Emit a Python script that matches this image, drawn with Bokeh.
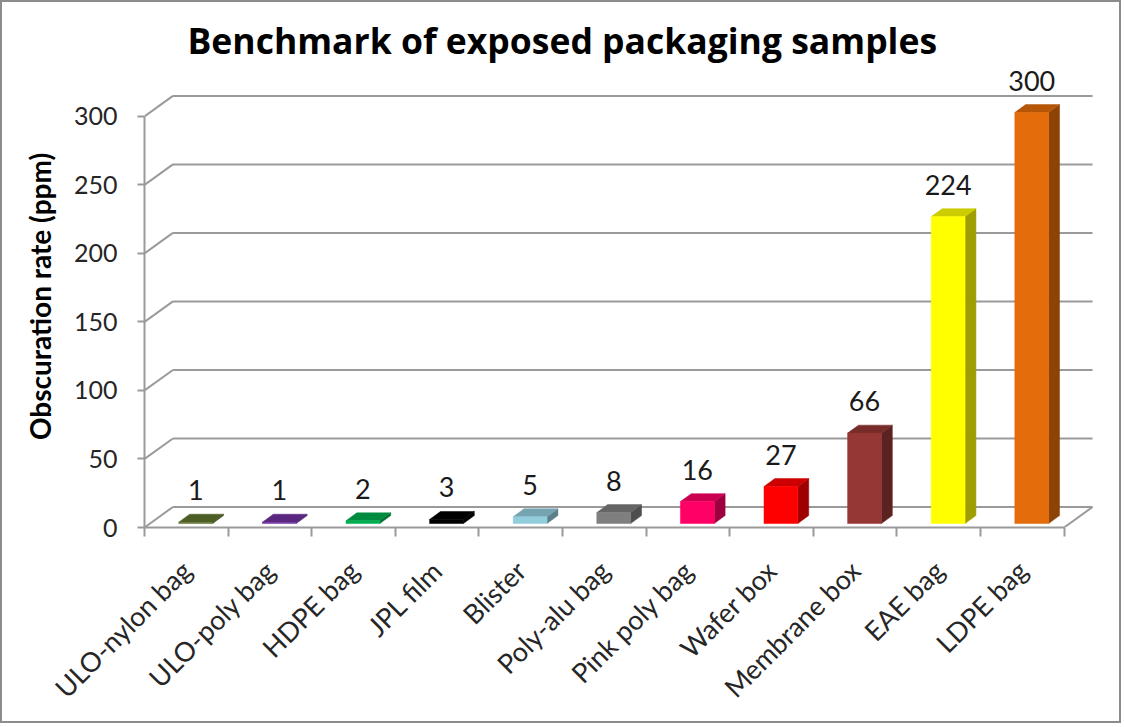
import math
from bokeh.plotting import figure
from bokeh.models import FixedTicker, Range1d, ColumnDataSource
from bokeh.core.properties import value
from bokeh.embed import file_html
from bokeh.resources import INLINE

# ---- data ----
categories = ["ULO-nylon bag", "ULO-poly bag", "HDPE bag", "JPL film", "Blister",
              "Poly-alu bag", "Pink poly bag", "Wafer box", "Membrane box", "EAE bag", "LDPE bag"]
values = [1, 1, 2, 3, 5, 8, 16, 27, 66, 224, 300]
bar_colors = ["#5f7530", "#7030a0", "#00b050", "#000000", "#92cddc", "#7f7f7f",
              "#ff0066", "#ff0000", "#953735", "#ffff00", "#e46c0a"]
y_ticks = [0, 50, 100, 150, 200, 250, 300]
title_text = "Benchmark of exposed packaging samples"
y_label = "Obscuration rate (ppm)"

# ---- 3D style parameters (in axis units) ----
WALL_DX, WALL_DY = 0.34, 15.0      # depth of the back wall / floor
BAR_DX, BAR_DY = 0.13, 5.8         # depth of each bar
BAR_OFF, BAR_W = 0.41, 0.405       # front face start inside a category, width
BAR_Y0 = 2.9                       # bar front bottom above floor front edge
LABEL_GAP = 17.5                   # gap between bar top and its value label
GRID = "#9a9a9a"
FONT = "Lato"


def shade(hexc, f):
    h = hexc.lstrip("#")
    r, g, b = (int(h[i:i + 2], 16) for i in (0, 2, 4))
    return "#%02x%02x%02x" % (int(r * f), int(g * f), int(b * f))


n = len(categories)
p = figure(width=1121, height=723,
           x_range=Range1d(-0.5, 10.935), y_range=Range1d(0, 337.2),
           output_backend="svg", toolbar_location=None,
           min_border_left=142, min_border_right=23, min_border_top=63, min_border_bottom=198,
           title=title_text)
p.styles = {"border": "2px solid #8c8c8c"}
p.grid.visible = False
p.outline_line_color = None
p.background_fill_color = "white"
p.border_fill_color = "white"

p.title.text_font = "Open Sans"
p.title.text_font_size = "35.5px"
p.title.text_font_style = "bold"
p.title.text_color = "#000000"
p.title.align = "left"
p.title.offset = 43
p.title.standoff = 3

# ---- back wall gridlines + left wall diagonals ----
x_left = -0.5
x_right = n - 0.5
p.segment(x0=[x_left + WALL_DX] * len(y_ticks), y0=[t + WALL_DY for t in y_ticks],
          x1=[x_right + WALL_DX] * len(y_ticks), y1=[t + WALL_DY for t in y_ticks],
          line_color=GRID, line_width=2)
p.segment(x0=[x_left] * len(y_ticks), y0=y_ticks,
          x1=[x_left + WALL_DX] * len(y_ticks), y1=[t + WALL_DY for t in y_ticks],
          line_color=GRID, line_width=2)
# floor right edge
p.segment(x0=[x_right], y0=[0], x1=[x_right + WALL_DX], y1=[WALL_DY],
          line_color=GRID, line_width=2)

# ---- bars ----
lefts = [i - 0.5 + BAR_OFF for i in range(n)]
rights = [l + BAR_W for l in lefts]
bottoms = [BAR_Y0] * n
tops = [BAR_Y0 + v for v in values]
side_cols = [shade(c, 0.62) for c in bar_colors]
top_cols = [shade(c, 0.8) for c in bar_colors]

side_xs = [[r, r + BAR_DX, r + BAR_DX, r] for r in rights]
side_ys = [[b, b + BAR_DY, t + BAR_DY, t] for b, t in zip(bottoms, tops)]
top_xs = [[l, r, r + BAR_DX, l + BAR_DX] for l, r in zip(lefts, rights)]
top_ys = [[t, t, t + BAR_DY, t + BAR_DY] for t in tops]

p.patches(xs=side_xs, ys=side_ys, fill_color=side_cols, line_color=side_cols, line_width=0.5)
p.patches(xs=top_xs, ys=top_ys, fill_color=top_cols, line_color=top_cols, line_width=0.5)
p.quad(left=lefts, right=rights, bottom=bottoms, top=tops,
       fill_color=bar_colors, line_color=bar_colors, line_width=0.5)

# ---- value labels ----
lab = ColumnDataSource(dict(x=[l + BAR_W / 2 for l in lefts],
                            y=[t + BAR_DY + LABEL_GAP for t in tops],
                            t=[str(v) for v in values]))
p.text(x="x", y="y", text="t", source=lab, text_font=value(FONT), text_font_size="27px",
       text_align="center", text_baseline="alphabetic", text_color="#1a1a1a")

# ---- axes ----
ya = p.yaxis[0]
ya.ticker = FixedTicker(ticks=y_ticks, minor_ticks=[])
ya.bounds = (0, 300)
ya.axis_line_color = GRID
ya.axis_line_width = 2
ya.major_tick_line_color = GRID
ya.major_tick_line_width = 2
ya.major_tick_out = 7
ya.major_tick_in = 0
ya.major_label_standoff = 20
ya.major_label_text_font = FONT
ya.major_label_text_font_size = "25px"
ya.major_label_text_color = "#262626"
ya.axis_label = y_label
ya.axis_label_text_font = FONT
ya.axis_label_text_font_size = "28px"
ya.axis_label_text_font_style = "bold"
ya.axis_label_text_color = "#000000"
ya.axis_label_standoff = 14

xa = p.xaxis[0]
xa.ticker = FixedTicker(ticks=list(range(n)), minor_ticks=[i - 0.5 for i in range(n + 1)])
xa.major_label_overrides = {i: c for i, c in enumerate(categories)}
xa.bounds = (x_left, x_right)
xa.axis_line_color = GRID
xa.axis_line_width = 2
xa.major_tick_line_color = None
xa.minor_tick_line_color = GRID
xa.minor_tick_line_width = 2
xa.minor_tick_out = 9
xa.minor_tick_in = 0
xa.major_label_orientation = math.pi / 4
xa.major_label_standoff = 29
xa.major_label_text_font = FONT
xa.major_label_text_font_size = "27px"
xa.major_label_text_color = "#262626"

open("out.html", "w").write(file_html(p, INLINE))
